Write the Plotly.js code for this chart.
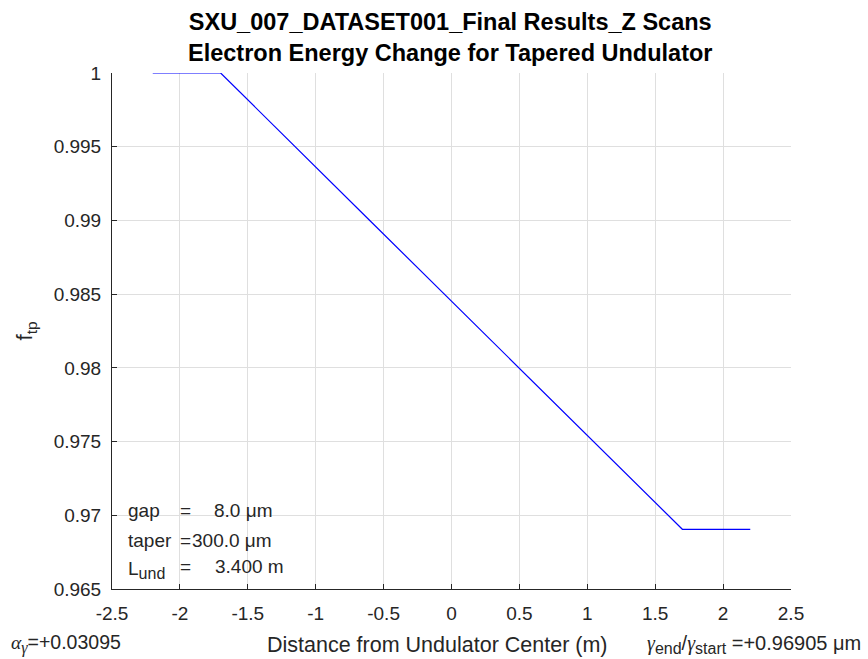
<!DOCTYPE html>
<html>
<head>
<meta charset="utf-8">
<script src="https://cdn.plot.ly/plotly-3.0.1.min.js"></script>
<style>html,body{margin:0;padding:0;background:#fff;}#chart{width:868px;height:659px;}</style>
</head>
<body>
<div id="chart"></div>
<script>
// Data
const zPos = [-2.2, -1.7, -0.6, 0.4, 1.45, 1.7, 2.2];
const fTp = [1.0, 1.0, 0.98998, 0.98088, 0.97132, 0.96905, 0.96905];
const xTicks = [-2.5, -2, -1.5, -1, -0.5, 0, 0.5, 1, 1.5, 2, 2.5];
const yTicks = [0.965, 0.97, 0.975, 0.98, 0.985, 0.99, 0.995, 1];
const yTickText = ["0.965", "0.97", "0.975", "0.98", "0.985", "0.99", "0.995", "1"];
const titleLines = ["SXU_007_DATASET001_Final Results_Z Scans", "Electron Energy Change for Tapered Undulator"];
const alphaGamma = "+0.03095";
const gammaRatio = "+0.96905";
const gapText = "8.0 μm";
const taperText = "300.0 μm";
const lundText = "3.400 m";

const FONT = "Liberation Sans, Arial, Helvetica, sans-serif";
const SERIF = "Liberation Serif, Times New Roman, serif";
const AX = "#262626";

const trace = {
  x: zPos, y: fTp, type: "scatter", mode: "lines",
  line: {color: "#0000ff", width: 1.2},
  hoverinfo: "skip", showlegend: false
};

function pxX(px) { return (px - 112) / 679; }
function pxY(py) { return (589 - py) / 516; }

function ann(text, px, py, size, xanchor, extra) {
  return Object.assign({
    xref: "paper", yref: "paper", x: pxX(px), y: pxY(py),
    xanchor: xanchor || "left", yanchor: "middle", showarrow: false,
    text: text, font: {family: FONT, size: size, color: AX}
  }, extra || {});
}

const greek = g => "<span style=\"font-family:" + SERIF + "\"><i>" + g + "</i></span>";
const sub = (t, s) => "<sub><span style=\"font-size:" + s + "px\">" + t + "</span></sub>";

const annots = [
  // title
  ann("<b>" + titleLines[0] + "</b><br><b>" + titleLines[1] + "</b>", 450, 37, 23.5, "center",
      {font: {family: FONT, size: 23.5, color: "#000000"}}),
  // inner text block
  ann("gap", 126, 510, 19), ann("=", 178, 510, 19), ann(gapText, 212, 510, 19),
  ann("taper", 126, 540, 19), ann("=", 178, 540, 19), ann(taperText, 190, 540, 19),
  ann("L" + sub("und", 16), 126, 570, 19), ann("=", 178, 566, 19), ann(lundText, 213, 566, 19),
  // bottom texts
  ann(greek("α") + sub(greek("γ"), 16) + "=" + alphaGamma, 9, 644, 19.5),
  ann("Distance from Undulator Center (m)", 265, 645, 21.5),
  ann(greek("γ") + sub("end", 16) + "/" + greek("γ") + sub("start", 16) + " =" + gammaRatio + " μm", 863, 644, 20, "right")
];

const layout = {
  width: 868, height: 659,
  paper_bgcolor: "#ffffff", plot_bgcolor: "#ffffff",
  margin: {l: 112, r: 77, t: 73, b: 70},
  font: {family: FONT, size: 19, color: AX},
  xaxis: {
    range: [-2.5, 2.5], tickmode: "array", tickvals: xTicks,
    ticktext: xTicks.map(String),
    showgrid: true, gridcolor: "#dfdfdf", gridwidth: 1,
    zeroline: false, showline: true, linecolor: AX, linewidth: 1, mirror: false,
    ticks: "inside", ticklen: 5, tickcolor: AX, ticklabelstandoff: 7,
    tickfont: {family: FONT, size: 19, color: AX}
  },
  yaxis: {
    range: [0.965, 1.0], tickmode: "array", tickvals: yTicks, ticktext: yTickText,
    showgrid: true, gridcolor: "#dfdfdf", gridwidth: 1,
    zeroline: false, showline: true, linecolor: AX, linewidth: 1, mirror: false,
    ticks: "inside", ticklen: 5, tickcolor: AX, ticklabelstandoff: 6,
    tickfont: {family: FONT, size: 19, color: AX},
    title: {text: "f<sub>tp</sub>", font: {family: FONT, size: 22, color: AX}, standoff: 14}
  },
  annotations: annots
};

Plotly.newPlot("chart", [trace], layout, {displayModeBar: false, staticPlot: true});
</script>
</body>
</html>
